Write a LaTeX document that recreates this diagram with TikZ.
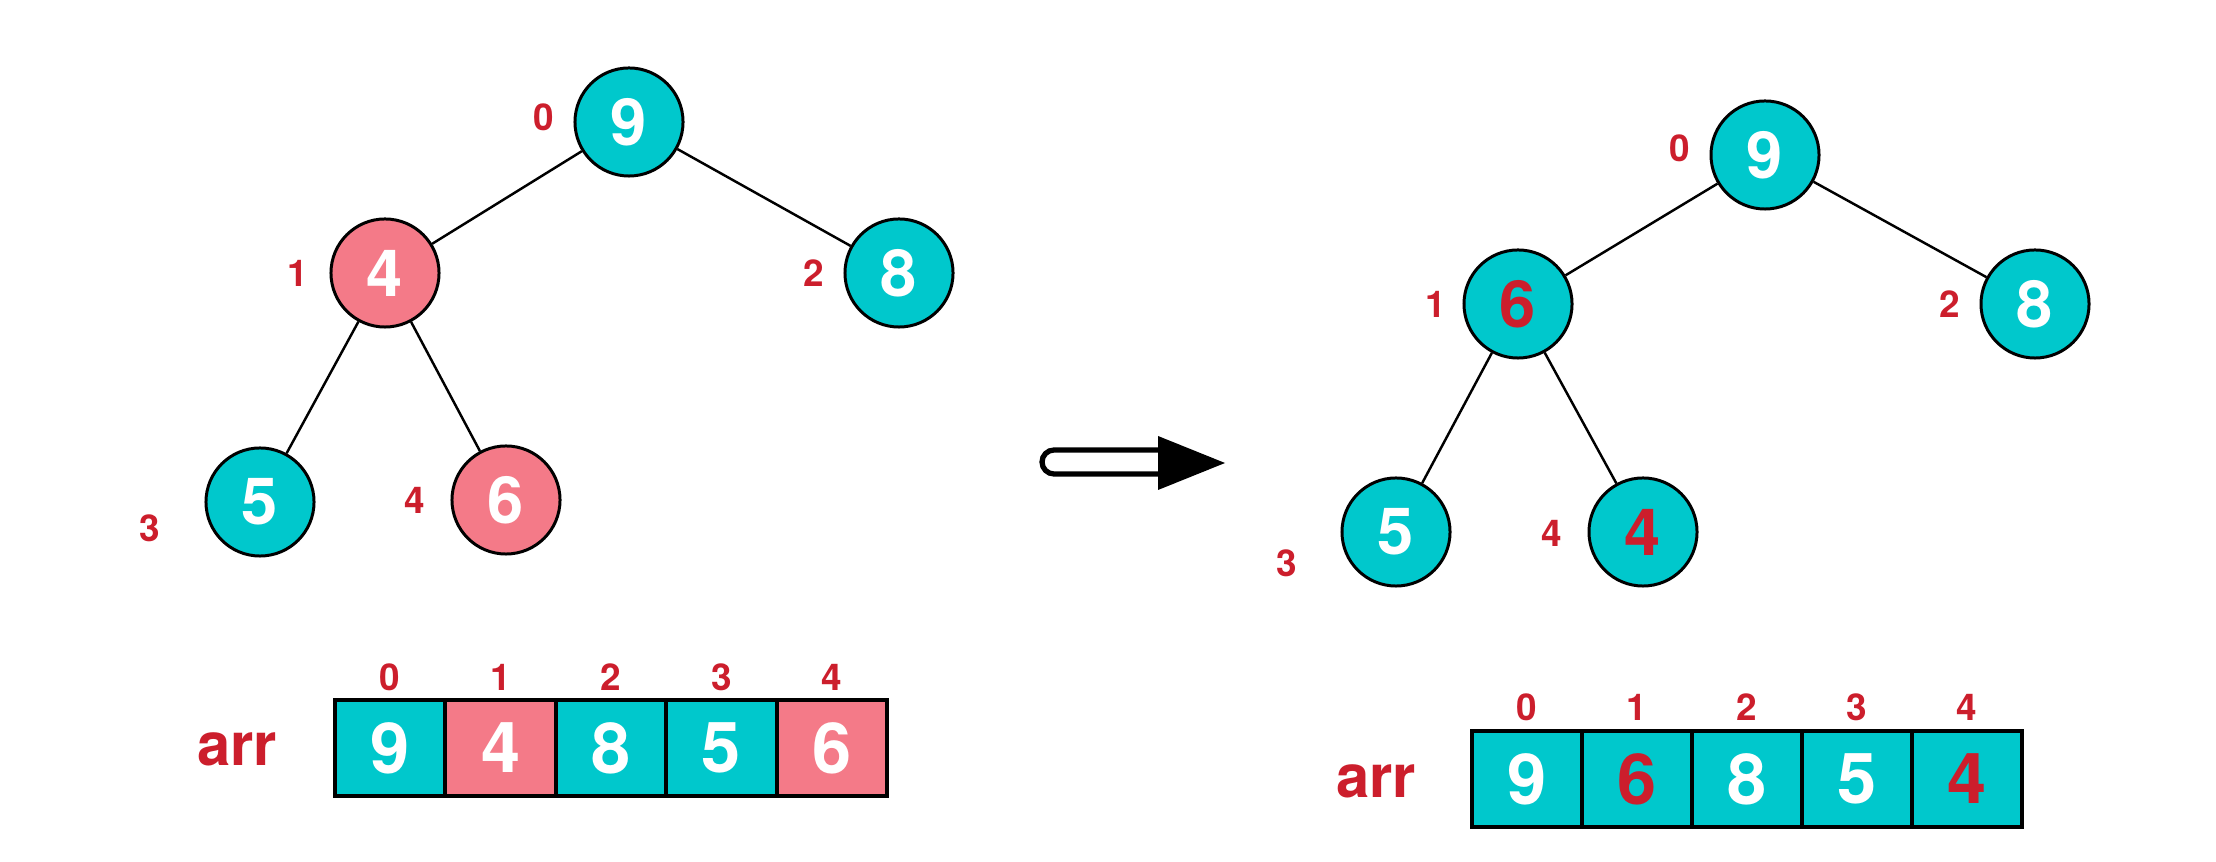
\documentclass[tikz,border=0pt]{standalone}
\usepackage{fontspec}
\setmainfont{TeX Gyre Heros}
\usetikzlibrary{positioning}
\definecolor{heapteal}{RGB}{0,200,204}
\definecolor{heappink}{RGB}{244,122,136}
\definecolor{heapred}{RGB}{204,30,44}
\tikzstyle{vertex}=[circle,draw,line width=0.85pt,minimum size=1.08cm,inner sep=0pt,font=\fontsize{18.5}{18.5}\selectfont\bfseries]
\tikzstyle{cell}=[rectangle,draw,line width=1.1pt,minimum width=1.104cm,minimum height=0.96cm,inner sep=0pt,font=\fontsize{20}{20}\selectfont\bfseries]
\tikzstyle{undirectededge} = [draw,line width=0.7pt]
\tikzstyle{indexlabel} = [text=heapred,font=\fontsize{10.5}{10.5}\selectfont\bfseries]
\tikzstyle{arrlabel} = [text=heapred,font=\fontsize{17}{17}\selectfont\bfseries]

\begin{document}
\begin{tikzpicture}[x=0.01cm,y=-0.01cm]
\useasboundingbox (0,0) rectangle (2216,862);

    % Heap before the sift down
    \foreach \pos/\name/\val/\fillc/\numc in {{(629,122)/L0/9/heapteal/white}, {(385,273)/L1/4/heappink/white}, {(899,273)/L2/8/heapteal/white}, {(260,502)/L3/5/heapteal/white}, {(506,500)/L4/6/heappink/white}}
        \node[vertex,fill=\fillc,text=\numc] (\name) at \pos {\val};

    \foreach \pos/\name/\val in {{(544,117)/L0i/0}, {(298,273)/L1i/1}, {(814,273)/L2i/2}, {(150,528)/L3i/3}, {(415,500)/L4i/4}}
        \node[indexlabel] (\name) at \pos {\val};

    % Connect vertices with edges
  \foreach \source/ \dest in {L0/L1, L0/L2, L1/L3, L1/L4}
          \path[undirectededge] (\source) -- (\dest);

    % Heap after the sift down
    \foreach \pos/\name/\val/\fillc/\numc in {{(1765,155)/R0/9/heapteal/white}, {(1518,304)/R1/6/heapteal/heapred}, {(2035,304)/R2/8/heapteal/white}, {(1396,532)/R3/5/heapteal/white}, {(1643,532)/R4/4/heapteal/heapred}}
        \node[vertex,fill=\fillc,text=\numc] (\name) at \pos {\val};

    \foreach \pos/\name/\val in {{(1680,148)/R0i/0}, {(1436,304)/R1i/1}, {(1950,304)/R2i/2}, {(1287,563)/R3i/3}, {(1552,533)/R4i/4}}
        \node[indexlabel] (\name) at \pos {\val};

  \foreach \source/ \dest in {R0/R1, R0/R2, R1/R3, R1/R4}
          \path[undirectededge] (\source) -- (\dest);

    % the arrow in between
    \draw[line width=1.5pt] (1158,450) -- (1054,450) arc[start angle=90,end angle=270,radius=0.12cm] -- (1158,474);
    \fill (1158,436) -- (1225,463) -- (1158,490) -- cycle;

    % Arrays
    \node[arrlabel] (arrL) at (237,749) {arr};
    \foreach \i/\val/\fillc/\numc in {0/9/heapteal/white, 1/4/heappink/white, 2/8/heapteal/white, 3/5/heapteal/white, 4/6/heappink/white}
    {
        \node[cell,fill=\fillc,text=\numc] (LA\i) at ({390.2+110.4*\i},748) {\val};
        \node[indexlabel] (LA\i i) at ({390.2+110.4*\i},677) {\i};
    }

    \node[arrlabel] (arrR) at (1376,781) {arr};
    \foreach \i/\val/\fillc/\numc in {0/9/heapteal/white, 1/6/heapteal/heapred, 2/8/heapteal/white, 3/5/heapteal/white, 4/4/heapteal/heapred}
    {
        \node[cell,fill=\fillc,text=\numc] (RA\i) at ({1527+110*\i},779) {\val};
        \node[indexlabel] (RA\i i) at ({1527+110*\i},707) {\i};
    }

\end{tikzpicture}
\end{document}
